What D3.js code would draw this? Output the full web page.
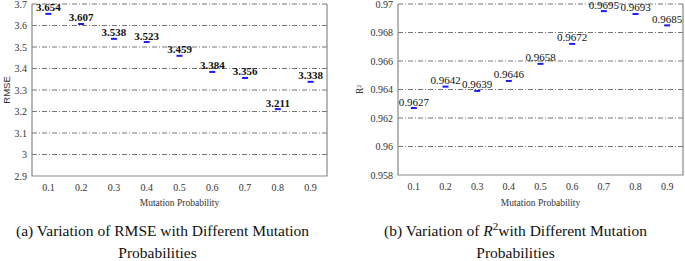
<!DOCTYPE html>
<html>
<head>
<meta charset="utf-8">
<script src="https://cdn.jsdelivr.net/npm/d3@7"></script>
<style>
  body { margin: 0; background: #fff; }
  text { font-family: "Liberation Serif", "DejaVu Serif", serif; }
</style>
</head>
<body>
<div id="chart"></div>
<script>
// data
var probs = ["0.1", "0.2", "0.3", "0.4", "0.5", "0.6", "0.7", "0.8", "0.9"]
var rmse = [3.654, 3.607, 3.538, 3.523, 3.459, 3.384, 3.356, 3.211, 3.338]
var r2 = [0.9627, 0.9642, 0.9639, 0.9646, 0.9658, 0.9672, 0.9695, 0.9693, 0.9685]
var rmseTicks = [2.9, 3, 3.1, 3.2, 3.3, 3.4, 3.5, 3.6, 3.7]
var r2Ticks = [0.958, 0.96, 0.962, 0.964, 0.966, 0.968, 0.97]

var svg = d3.select("#chart")
  .append("svg")
    .attr("width", 685)
    .attr("height", 261)

function drawPanel(opt) {
  var g = svg.append("g")
  var x = d3.scaleBand().domain(probs).range([opt.left, opt.right])
  var y = d3.scaleLinear().domain(opt.domain).range([opt.bottom, opt.top])

  // grid lines (dash-dot)
  g.selectAll(".grid")
    .data(opt.ticks.slice(1))
    .enter()
    .append("line")
      .attr("x1", opt.left)
      .attr("x2", opt.right)
      .attr("y1", function(d) { return y(d) })
      .attr("y2", function(d) { return y(d) })
      .attr("stroke", "#666")
      .attr("stroke-width", 0.9)
      .attr("stroke-dasharray", "5,2,1,2")

  // frame without top
  g.append("path")
    .attr("d", "M" + opt.left + "," + opt.top + "V" + opt.bottom + "H" + opt.right + "V" + opt.top)
    .attr("fill", "none")
    .attr("stroke", "#888")
    .attr("stroke-width", 1.2)

  // y axis labels
  var ya = g.append("g")
    .attr("transform", "translate(" + opt.left + ",0)")
    .call(d3.axisLeft(y).tickValues(opt.ticks).tickSize(0).tickPadding(5).tickFormat(function(d) { return String(d) }))
  ya.select(".domain").remove()
  ya.selectAll("text").attr("font-size", 10).attr("fill", "#333").style("font-family", "'Liberation Serif', serif")

  // x axis labels
  var xa = g.append("g")
    .attr("transform", "translate(0," + opt.bottom + ")")
    .call(d3.axisBottom(x).tickSize(0).tickPadding(8))
  xa.select(".domain").remove()
  xa.selectAll("text").attr("font-size", 10).attr("fill", "#333").style("font-family", "'Liberation Serif', serif")

  // axis titles
  g.append("text")
    .attr("x", (opt.left + opt.right) / 2)
    .attr("y", 206)
    .attr("text-anchor", "middle")
    .attr("font-size", 9.5)
    .attr("fill", "#333")
    .text("Mutation Probability")

  g.append("text")
    .attr("transform", "translate(" + opt.ylabX + "," + ((opt.top + opt.bottom) / 2) + ")rotate(-90)")
    .attr("text-anchor", "middle")
    .attr("font-size", 9.5)
    .attr("fill", "#333")
    .style("font-family", opt.ylabFont)
    .text(opt.ylab)

  // markers
  g.selectAll(".mark")
    .data(opt.values)
    .enter()
    .append("line")
      .attr("x1", function(d, i) { return x(probs[i]) + x.bandwidth() / 2 - 3 })
      .attr("x2", function(d, i) { return x(probs[i]) + x.bandwidth() / 2 + 3 })
      .attr("y1", function(d) { return y(d) })
      .attr("y2", function(d) { return y(d) })
      .attr("stroke", "#1a1aff")
      .attr("stroke-width", 2)

  // value labels
  g.selectAll(".lbl")
    .data(opt.values)
    .enter()
    .append("text")
      .attr("x", function(d, i) { return x(probs[i]) + x.bandwidth() / 2 })
      .attr("y", function(d) { return y(d) - 2.5 })
      .attr("text-anchor", "middle")
      .attr("font-size", 11)
      .attr("font-weight", opt.bold ? "bold" : "normal")
      .attr("fill", "#111")
      .text(function(d) { return String(d) })

  // caption
  var cx = (opt.left + opt.right) / 2
  opt.caption.forEach(function(c, i) {
    var t = g.append("text")
      .attr("x", cx + c.dx)
      .attr("y", 236 + i * 22)
      .attr("text-anchor", "middle")
      .attr("font-size", 15.5)
      .attr("fill", "#111")
    c.parts.forEach(function(p) {
      var s = t.append("tspan").text(p.t)
      if (p.it) s.attr("font-style", "italic")
      if (p.sup) s.attr("font-size", 11).attr("dy", -6)
      if (p.down) s.attr("dy", 6)
    })
  })
}

drawPanel({
  left: 32, right: 327, top: 4, bottom: 176,
  domain: [2.9, 3.7], ticks: rmseTicks, values: rmse,
  ylab: "RMSE", ylabX: 10, ylabFont: "'Liberation Sans', sans-serif", bold: true,
  caption: [
    {dx: -17, parts: [{t: "(a) Variation of RMSE with Different Mutation"}]},
    {dx: -22, parts: [{t: "Probabilities"}]}
  ]
})

drawPanel({
  left: 398, right: 683, top: 4, bottom: 175,
  domain: [0.958, 0.97], ticks: r2Ticks, values: r2,
  ylab: "R²", ylabX: 363, ylabFont: "'Liberation Serif', serif", bold: false,
  caption: [
    {dx: -25, parts: [{t: "(b) Variation of  "}, {t: "R", it: true}, {t: "2", sup: true}, {t: "with Different Mutation", down: true}]},
    {dx: -25, parts: [{t: "Probabilities"}]}
  ]
})
</script>
</body>
</html>
